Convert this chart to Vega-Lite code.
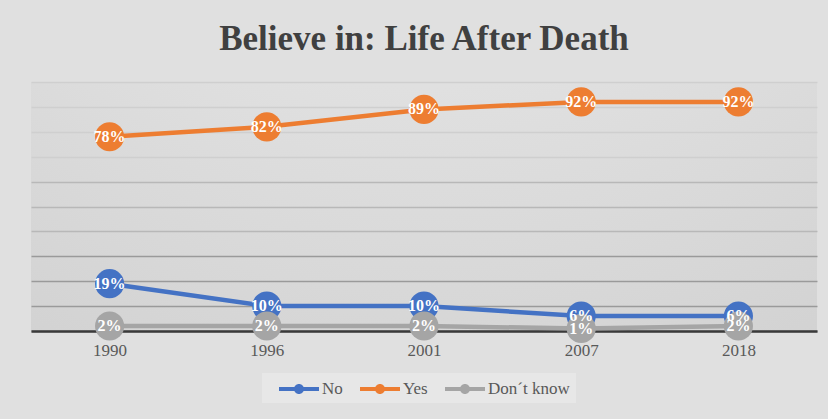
{
  "$schema": "https://vega.github.io/schema/vega-lite/v6.json",
  "width": 786,
  "height": 249,
  "autosize": {"type": "none"},
  "padding": {"left": 31, "top": 82, "right": 11, "bottom": 88},
  "background": "#e0e0e0",
  "title": {
    "text": "Believe in: Life After Death",
    "font": "Liberation Serif",
    "fontSize": 35,
    "fontWeight": "bold",
    "color": "#404040",
    "anchor": "middle",
    "offset": 25
  },
  "data": {
    "values": [
      {"year": "1990", "series": "No", "value": 0.19},
      {"year": "1996", "series": "No", "value": 0.10},
      {"year": "2001", "series": "No", "value": 0.10},
      {"year": "2007", "series": "No", "value": 0.06},
      {"year": "2018", "series": "No", "value": 0.06},
      {"year": "1990", "series": "Yes", "value": 0.78},
      {"year": "1996", "series": "Yes", "value": 0.82},
      {"year": "2001", "series": "Yes", "value": 0.89},
      {"year": "2007", "series": "Yes", "value": 0.92},
      {"year": "2018", "series": "Yes", "value": 0.92},
      {"year": "1990", "series": "Don´t know", "value": 0.02},
      {"year": "1996", "series": "Don´t know", "value": 0.02},
      {"year": "2001", "series": "Don´t know", "value": 0.02},
      {"year": "2007", "series": "Don´t know", "value": 0.01},
      {"year": "2018", "series": "Don´t know", "value": 0.02}
    ]
  },
  "encoding": {
    "x": {
      "field": "year",
      "type": "ordinal",
      "scale": {"type": "point", "padding": 0.5},
      "axis": {
        "title": null,
        "labelAngle": 0,
        "ticks": false,
        "domain": true,
        "domainColor": "#3a3a3a",
        "domainWidth": 2.5,
        "grid": false,
        "labelFont": "Liberation Serif",
        "labelFontSize": 17,
        "labelColor": "#595959",
        "labelPadding": 11
      }
    },
    "y": {
      "field": "value",
      "type": "quantitative",
      "scale": {"domain": [0, 1], "nice": false},
      "axis": {
        "title": null,
        "labels": false,
        "ticks": false,
        "domain": false,
        "values": [0, 0.1, 0.2, 0.3, 0.4, 0.5, 0.6, 0.7, 0.8, 0.9, 1],
        "gridColor": {
          "condition": [
            {"test": "datum.value >= 0.7", "value": "#cfcfcf"},
            {"test": "datum.value >= 0.4", "value": "#b8b8b8"}
          ],
          "value": "#9a9a9a"
        },
        "gridWidth": 1.5,
        "minExtent": 0,
        "maxExtent": 0
      }
    },
    "color": {
      "field": "series",
      "type": "nominal",
      "scale": {
        "domain": ["No", "Yes", "Don´t know"],
        "range": ["#4472C4", "#ED7D31", "#A5A5A5"]
      },
      "legend": {
        "orient": "none",
        "legendX": 231,
        "legendY": 291,
        "direction": "horizontal",
        "title": null,
        "labelFont": "Liberation Serif",
        "labelFontSize": 17,
        "labelColor": "#595959",
        "symbolType": "M0.1,-0.2L4.1,-0.2L4.1,0.2L0.1,0.2Z M2.6,0A0.5,0.5,0,1,1,1.6,0A0.5,0.5,0,1,1,2.6,0Z",
        "symbolSize": 400,
        "symbolStrokeWidth": 0,
        "fillColor": "#e7e7e7",
        "padding": 6,
        "columnPadding": 6,
        "labelOffset": 34,
        "encode": {
          "symbols": {
            "update": {
              "fill": {"scale": "color", "field": "value"},
              "opacity": {"value": 1}
            }
          }
        }
      }
    }
  },
  "layer": [
    {"mark": {"type": "line", "strokeWidth": 4.5}},
    {"mark": {"type": "point", "filled": true, "size": 850, "opacity": 1}},
    {
      "mark": {
        "type": "text",
        "font": "Liberation Serif",
        "fontWeight": "bold",
        "fontSize": 16,
        "align": "center",
        "baseline": "middle"
      },
      "encoding": {
        "text": {"field": "value", "format": ".0%"},
        "color": {"value": "white"}
      }
    }
  ],
  "config": {
    "view": {
      "stroke": null,
      "fill": {
        "gradient": "radial",
        "x1": 0.5, "y1": -0.3, "r1": 0,
        "x2": 0.5, "y2": -0.3, "r2": 1.1,
        "stops": [
          {"offset": 0, "color": "#f4f4f4"},
          {"offset": 1, "color": "#d2d2d2"}
        ]
      }
    }
  }
}
